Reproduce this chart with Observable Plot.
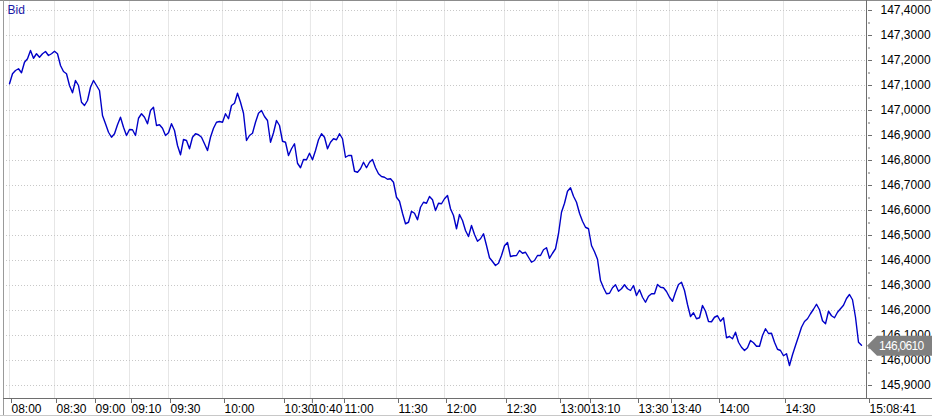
<!DOCTYPE html>
<html><head><meta charset="utf-8">
<script src="https://cdn.jsdelivr.net/npm/d3@7"></script>
<script src="https://cdn.jsdelivr.net/npm/@observablehq/plot@0.6"></script>
<style>
html,body{margin:0;padding:0;background:#fff;}
#chart{width:932px;height:417px;overflow:hidden;}
</style></head><body><div id="chart"></div>
<script>
const seriesName = "Bid";
const bid = [
147.107,147.147,147.16,147.167,147.151,147.193,147.207,147.24,147.209,147.227,
147.213,147.227,147.236,147.22,147.227,147.237,147.227,147.18,147.156,147.147,
147.1,147.071,147.12,147.1,147.033,147.02,147.04,147.093,147.12,147.1,
147.08,146.98,146.947,146.913,146.893,146.907,146.943,146.973,146.933,146.9,
146.924,146.923,146.9,146.969,146.987,146.973,146.947,147.0,147.013,146.94,
146.943,146.929,146.9,146.911,146.947,146.92,146.86,146.823,146.884,146.88,
146.847,146.893,146.907,146.903,146.893,146.867,146.84,146.893,146.929,146.953,
146.956,146.953,146.987,146.967,147.02,147.029,147.069,147.033,146.989,146.88,
146.9,146.909,146.953,146.989,147.0,146.976,146.96,146.873,146.911,146.96,
146.94,146.877,146.873,146.82,146.847,146.867,146.789,146.771,146.804,146.803,
146.829,146.803,146.84,146.883,146.907,146.893,146.847,146.873,146.887,146.883,
146.907,146.887,146.813,146.82,146.82,146.757,146.753,146.767,146.793,146.771,
146.793,146.804,146.771,146.747,146.736,146.733,146.725,146.727,146.713,146.653,
146.637,146.589,146.547,146.553,146.597,146.589,146.563,146.613,146.633,146.629,
146.656,146.643,146.6,146.629,146.627,146.647,146.66,146.607,146.58,146.527,
146.584,146.56,146.52,146.496,146.54,146.504,146.477,146.487,146.507,146.46,
146.411,146.396,146.38,146.389,146.42,146.459,146.472,146.416,146.419,146.42,
146.44,146.429,146.433,146.413,146.393,146.4,146.42,146.42,146.443,146.451,
146.409,146.429,146.447,146.507,146.593,146.629,146.677,146.691,146.657,146.633,
146.589,146.557,146.533,146.527,146.46,146.435,146.405,146.32,146.291,146.267,
146.269,146.291,146.303,146.277,146.287,146.303,146.287,146.28,146.3,146.26,
146.283,146.253,146.233,146.257,146.267,146.267,146.304,146.293,146.291,146.276,
146.253,146.237,146.273,146.304,146.313,146.28,146.224,146.176,146.191,146.167,
146.171,146.22,146.197,146.156,146.155,146.173,146.179,146.157,146.171,146.091,
146.096,146.087,146.113,146.073,146.053,146.04,146.051,146.08,146.071,146.057,
146.057,146.1,146.127,146.108,146.109,146.073,146.045,146.04,146.019,146.027,
145.98,146.023,146.06,146.096,146.133,146.156,146.167,146.187,146.205,146.225,
146.203,146.159,146.147,146.197,146.179,146.171,146.193,146.207,146.221,146.248,
146.264,146.243,146.173,146.073,146.061
];
const timeLabels = ["08:00","08:30","09:00","09:10","09:30","10:00","10:30","10:40","11:00","11:30","12:00","12:30","13:00","13:10","13:30","13:40","14:00","14:30","15:08:41"];
const timeIndex  = [0,15,28,40,53,71,91,100.3,111,129,145,165,183,193,209,220,236,258,286];
const priceTicks = [145.9,146.0,146.1,146.2,146.3,146.4,146.5,146.6,146.7,146.8,146.9,147.0,147.1,147.2,147.3,147.4];
const minorTicks = [145.95,146.05,146.15,146.25,146.35,146.45,146.55,146.65,146.75,146.85,146.95,147.05,147.15,147.25,147.35];
const lastValue = bid[bid.length - 1];

const fmt = v => v.toFixed(4).replace(".", ",");
const labelOf = new Map(timeIndex.map((t, i) => [t, timeLabels[i]]));
const FONT = "'Liberation Sans', Arial, sans-serif";

const plot = Plot.plot({
  width: 932, height: 417,
  marginTop: 1, marginBottom: 19, marginLeft: 9, marginRight: 65,
  x: {type: "linear", domain: [0, 286]},
  y: {domain: [145.848, 147.436]},
  style: {fontFamily: FONT, fontSize: "12px", background: "#fff", color: "#000", overflow: "visible"},
  marks: [
    Plot.ruleX(timeIndex.slice(0, -1), {stroke: "#e6e6e6", strokeWidth: 1}),
    Plot.ruleY(priceTicks, {stroke: "#c8c8c8", strokeDasharray: "1,2", insetLeft: -6}),
    Plot.lineY(bid, {x: (d, i) => i, y: d => d, stroke: "#0000c8", strokeWidth: 1.4}),
    Plot.axisY({anchor: "right", ticks: priceTicks, tickFormat: fmt, tickSize: 4, tickPadding: 9,
      stroke: "#6e6e6e", fill: "#000", fontSize: 12, letterSpacing: "-0.7px"}),
    Plot.axisY({anchor: "right", ticks: minorTicks, tickFormat: () => "", tickSize: 2, stroke: "#6e6e6e"}),
    Plot.axisX({ticks: timeIndex, tickFormat: d => labelOf.get(d) ?? "", tickSize: 5, tickPadding: 1,
      textAnchor: "start", dx: 2, stroke: "#6e6e6e", fill: "#000", fontSize: 12, letterSpacing: "-0.9px"}),
    Plot.text([seriesName], {frameAnchor: "top-left", text: d => d, dx: -2, dy: 4, lineAnchor: "top",
      textAnchor: "start", fill: "#1a1aa8", fontSize: 12})
  ]
});

const svg = d3.select(plot);
const g = svg.append("g").attr("shape-rendering", "crispEdges").attr("fill", "none");
g.append("line").attr("x1", 0).attr("x2", 932).attr("y1", 0.5).attr("y2", 0.5).attr("stroke", "#8c8c8c");
g.append("line").attr("x1", 3.5).attr("x2", 3.5).attr("y1", 0).attr("y2", 415).attr("stroke", "#9a9a9a");
g.append("line").attr("x1", 3).attr("x2", 932).attr("y1", 398.5).attr("y2", 398.5).attr("stroke", "#6e6e6e");
g.append("line").attr("x1", 866.5).attr("x2", 866.5).attr("y1", 0).attr("y2", 398.5).attr("stroke", "#6e6e6e");
g.append("line").attr("x1", 0).attr("x2", 932).attr("y1", 415.5).attr("y2", 415.5).attr("stroke", "#c8c8c8");

const y0 = plot.scale("y").apply(lastValue) + 1;
const tag = svg.append("g");
tag.append("polygon")
  .attr("points", `867,${y0} 877,${y0 - 10} 932,${y0 - 10} 932,${y0 + 10} 877,${y0 + 10}`)
  .attr("fill", "#808080");
tag.append("text").attr("x", 879).attr("y", y0).attr("dy", "0.36em")
  .attr("text-anchor", "start")
  .attr("fill", "#fff").attr("font-family", FONT).attr("font-size", 12)
  .attr("letter-spacing", "-0.7px").text(fmt(lastValue));

document.getElementById("chart").appendChild(plot);
</script></body></html>
